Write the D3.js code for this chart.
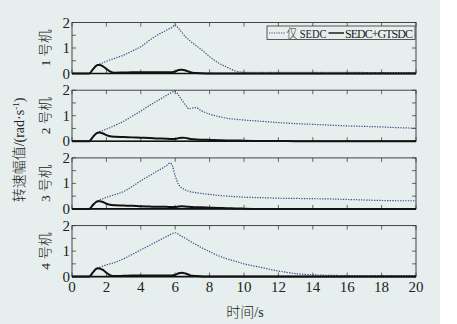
<!DOCTYPE html>
<html><head><meta charset="utf-8">
<script src="https://cdn.jsdelivr.net/npm/d3@7"></script>
<style>body{margin:0;background:#fff}svg{display:block}</style>
</head><body>
<script>
const times = [0,0.5,1.0,1.2,1.4,1.5,1.6,1.8,2.0,2.2,2.5,3,3.5,4,4.5,5,5.5,5.7,5.8,6.0,6.2,6.4,6.6,6.8,7,7.2,7.5,8,8.5,9,9.5,10,11,12,13,14,15,16,17,18,19,20];
// SEDC only (dotted)
const sedc1 = [0,0,0,0.15,0.3,0.34,0.37,0.42,0.48,0.53,0.6,0.72,0.88,1.05,1.3,1.52,1.7,1.77,1.8,1.9,1.76,1.6,1.44,1.32,1.2,1.1,0.95,0.66,0.42,0.25,0.1,0.05,0.05,0.05,0.05,0.05,0.05,0.05,0.04,0.04,0.04,0.04];
const sedc2 = [0,0,0,0.15,0.3,0.34,0.37,0.42,0.48,0.53,0.62,0.78,0.98,1.18,1.4,1.6,1.8,1.88,1.92,1.95,1.8,1.6,1.42,1.27,1.3,1.32,1.2,1.06,0.97,0.9,0.86,0.83,0.78,0.73,0.69,0.66,0.63,0.6,0.58,0.56,0.53,0.51];
const sedc3 = [0,0,0,0.14,0.27,0.31,0.35,0.4,0.45,0.5,0.56,0.68,0.88,1.1,1.3,1.5,1.7,1.8,1.75,1.3,0.95,0.82,0.74,0.69,0.66,0.64,0.61,0.57,0.53,0.5,0.48,0.46,0.44,0.42,0.41,0.4,0.39,0.37,0.35,0.33,0.32,0.32];
const sedc4 = [0,0,0,0.15,0.3,0.33,0.36,0.41,0.46,0.5,0.56,0.7,0.87,1.05,1.22,1.4,1.57,1.64,1.68,1.72,1.65,1.57,1.5,1.42,1.33,1.26,1.15,0.98,0.82,0.7,0.6,0.5,0.36,0.22,0.12,0.07,0.05,0.04,0.04,0.04,0.04,0.04];
// SEDC+GTSDC (solid)
const gtsdc1 = [0,0,0,0.15,0.3,0.33,0.33,0.28,0.18,0.08,0.03,0.04,0.05,0.05,0.05,0.05,0.05,0.05,0.05,0.08,0.14,0.15,0.12,0.07,0.03,0.02,0.01,0,0,0,0,0,0,0,0,0,0,0,0,0,0,0];
const gtsdc2 = [0,0,0,0.15,0.3,0.33,0.34,0.3,0.24,0.19,0.17,0.16,0.15,0.14,0.13,0.11,0.1,0.09,0.09,0.09,0.12,0.14,0.13,0.1,0.08,0.07,0.06,0.05,0.04,0.03,0.03,0.02,0.01,0.01,0,0,0,0,0,0,0,0];
const gtsdc3 = [0,0,0,0.14,0.27,0.3,0.3,0.27,0.2,0.16,0.14,0.13,0.12,0.1,0.09,0.08,0.08,0.07,0.07,0.07,0.09,0.1,0.09,0.08,0.07,0.06,0.06,0.05,0.04,0.03,0.02,0.01,0,0,0,0,0,0,0,0,0,0];
const gtsdc4 = [0,0,0,0.15,0.3,0.33,0.32,0.26,0.15,0.06,0.02,0.03,0.04,0.04,0.04,0.04,0.04,0.04,0.04,0.07,0.13,0.15,0.12,0.07,0.03,0.02,0.01,0,0,0,0,0,0,0,0,0,0,0,0,0,0,0];

const panelLabels = ["1 号机","2 号机","3 号机","4 号机"];
const xTicks = [0,2,4,6,8,10,12,14,16,18,20];
const yTicks = [0,0.5,1,1.5,2];
const yLabels = [0,1,2];
const legendLabels = ["仅 SEDC","SEDC+GTSDC"];
const yTitle = "转速幅值/(rad·s";
const xTitle = "时间/s";

const sedcSeries = [sedc1,sedc2,sedc3,sedc4];
const gtsdcSeries = [gtsdc1,gtsdc2,gtsdc3,gtsdc4];

const W=457,H=324;
const bg="#e6efed";
const svg=d3.select("body").append("svg").attr("width",W).attr("height",H);
svg.append("rect").attr("x",0).attr("y",0).attr("width",440).attr("height",H).attr("fill",bg);

const serif="'Liberation Serif','Times New Roman','Noto Sans CJK SC',serif";
const x=d3.scaleLinear().domain([0,20]).range([72,416]);
const panelTop=[22.5,90.2,157.9,225.6];
const ph=51;

panelTop.forEach((top,i)=>{
  const y=d3.scaleLinear().domain([0,2]).range([top+ph,top]);
  const g=svg.append("g");
  xTicks.forEach(t=>{
    g.append("line").attr("x1",x(t)).attr("x2",x(t)).attr("y1",top).attr("y2",top+4).attr("stroke","#444").attr("stroke-width",0.8);
    g.append("line").attr("x1",x(t)).attr("x2",x(t)).attr("y1",top+ph).attr("y2",top+ph-4).attr("stroke","#444").attr("stroke-width",0.8);
  });
  yTicks.forEach(v=>{
    g.append("line").attr("x1",72).attr("x2",76).attr("y1",y(v)).attr("y2",y(v)).attr("stroke","#444").attr("stroke-width",0.8);
    g.append("line").attr("x1",416).attr("x2",412).attr("y1",y(v)).attr("y2",y(v)).attr("stroke","#444").attr("stroke-width",0.8);
  });
  const line=d3.line().x((d,k)=>x(times[k])).y(d=>y(d)).curve(d3.curveMonotoneX);
  g.append("path").attr("d",line(sedcSeries[i])).attr("fill","none").attr("stroke","#3c4c86").attr("stroke-width",1.2).attr("stroke-dasharray","1.3,1.3");
  g.append("path").attr("d",line(gtsdcSeries[i])).attr("fill","none").attr("stroke","#111").attr("stroke-width",2);
  g.append("rect").attr("x",72).attr("y",top).attr("width",344).attr("height",ph).attr("fill","none").attr("stroke","#333").attr("stroke-width",0.9);
  g.append("line").attr("x1",72).attr("x2",416).attr("y1",top+ph).attr("y2",top+ph).attr("stroke","#111").attr("stroke-width",1.6);
  yLabels.forEach(v=>{
    g.append("text").attr("x",70).attr("y",y(v)+5).attr("text-anchor","end").attr("font-family",serif).attr("font-size",15).attr("fill","#222").text(v);
  });
  g.append("text").attr("transform",`translate(50,${top+ph/2}) rotate(-90)`).attr("text-anchor","middle").attr("font-family",serif).attr("font-size",13.5).attr("font-weight",300).attr("fill","#222").text(panelLabels[i]);
});

xTicks.forEach(t=>{
  svg.append("text").attr("x",x(t)).attr("y",292).attr("text-anchor","middle").attr("font-family",serif).attr("font-size",15).attr("fill","#222").text(t);
});
svg.append("text").attr("x",245).attr("y",317).attr("text-anchor","middle").attr("font-family",serif).attr("font-size",14).attr("font-weight",300).attr("fill","#222").text(xTitle);

const yt=svg.append("text").attr("transform","translate(24,150) rotate(-90)").attr("text-anchor","middle").attr("font-family",serif).attr("font-size",14).attr("font-weight",300).attr("fill","#222");
yt.append("tspan").text(yTitle);
yt.append("tspan").attr("dy",-5).attr("font-size",9).text("-1");
yt.append("tspan").attr("dy",5).text(")");

const lg=svg.append("g");
lg.append("rect").attr("x",267).attr("y",26).attr("width",148).attr("height",13.5).attr("fill",bg).attr("stroke","#333").attr("stroke-width",0.8);
lg.append("line").attr("x1",269).attr("x2",285).attr("y1",33).attr("y2",33).attr("stroke","#3c4c86").attr("stroke-width",1.1).attr("stroke-dasharray","1.2,1.2");
lg.append("text").attr("x",286.5).attr("y",37.5).attr("font-family",serif).attr("font-size",12).attr("font-weight",300).attr("fill","#222").attr("textLength",40).attr("lengthAdjust","spacingAndGlyphs").text(legendLabels[0]);
lg.append("line").attr("x1",328.5).attr("x2",344).attr("y1",33).attr("y2",33).attr("stroke","#111").attr("stroke-width",1.4);
lg.append("text").attr("x",345).attr("y",37.5).attr("font-family",serif).attr("font-size",12).attr("fill","#222").attr("textLength",68).text(legendLabels[1]);
</script>
</body></html>
